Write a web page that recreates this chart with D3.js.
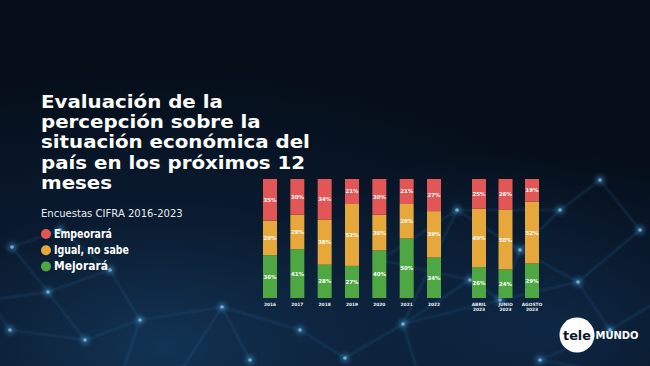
<!DOCTYPE html>
<html>
<head>
<meta charset="utf-8">
<script src="https://cdn.jsdelivr.net/npm/d3@7"></script>
<style>
html,body{margin:0;padding:0;background:#06101c;overflow:hidden;}
svg{display:block;}
</style>
</head>
<body>
<svg id="chart" width="650" height="366"></svg>
<script>
// ---- data ----
const categories = ["2016","2017","2018","2019","2020","2021","2022","ABRIL 2023","JUNIO 2023","AGOSTO 2023"];
const groupA = ["2016","2017","2018","2019","2020","2021","2022"];
const groupB = ["ABRIL 2023","JUNIO 2023","AGOSTO 2023"];
const seriesNames = ["Mejorará","Igual, no sabe","Empeorará"];
const mejorara = [36,41,28,27,40,50,34,26,24,29];
const igual    = [29,29,38,52,30,29,39,49,50,52];
const empeorara= [35,30,34,21,30,21,27,25,26,19];
const legendNames = ["Empeorará","Igual, no sabe","Mejorará"];
const titleLines = ["Evaluación de la","percepción sobre la","situación económica del","país en los próximos 12","meses"];
const subtitle = "Encuestas CIFRA 2016-2023";

const colors = {"Empeorará":"#e25656","Igual, no sabe":"#e6a83b","Mejorará":"#4ea743"};

const svg = d3.select("#chart");
const W = 650, H = 366;

// ---- background ----
const defs = svg.append("defs");
const bg = defs.append("radialGradient").attr("id","bgGlow").attr("cx","0.25").attr("cy","0.95").attr("r","0.8");
bg.append("stop").attr("offset","0").attr("stop-color","#123354");
bg.append("stop").attr("offset","0.45").attr("stop-color","#0a1b30");
bg.append("stop").attr("offset","1").attr("stop-color","#050d18");
const bg2 = defs.append("radialGradient").attr("id","bgGlow2").attr("cx","0.85").attr("cy","0.9").attr("r","0.5");
bg2.append("stop").attr("offset","0").attr("stop-color","#12345a").attr("stop-opacity",0.6);
bg2.append("stop").attr("offset","1").attr("stop-color","#12345a").attr("stop-opacity",0);
const blur = defs.append("filter").attr("id","blur").attr("x","-50%").attr("y","-50%").attr("width","200%").attr("height","200%");
blur.append("feGaussianBlur").attr("stdDeviation",0.8);
const glow = defs.append("filter").attr("id","glow").attr("x","-200%").attr("y","-200%").attr("width","500%").attr("height","500%");
glow.append("feGaussianBlur").attr("stdDeviation",2.5);

svg.append("rect").attr("width",W).attr("height",H).attr("fill","url(#bgGlow)");
svg.append("rect").attr("width",W).attr("height",H).attr("fill","url(#bgGlow2)");

// decorative network
const nodes = [[12,247],[48,292],[85,340],[-10,300],[140,320],[180,372],[222,307],[60,230],[110,270],[10,330],[250,360],[120,380],
  [457,210],[403,324],[345,358],[578,282],[640,230],[610,330],[520,250],[500,300],[560,210],[470,280],[380,260],[660,300],[600,180],[540,360],[660,380],[420,380],[300,330]];
const links = [[0,1],[1,2],[0,7],[7,8],[8,1],[3,1],[2,4],[4,6],[6,5],[2,9],[9,3],[4,11],[6,10],[8,4],[6,28],
  [12,13],[13,14],[12,22],[22,21],[21,13],[15,16],[15,17],[15,18],[18,19],[19,13],[18,20],[20,12],[16,24],[17,23],[17,25],[13,27],[19,21],[14,28],[15,19],[20,24],[25,26],[12,18]];
const net = svg.append("g").attr("filter","url(#blur)");
net.selectAll("line").data(links).join("line")
  .attr("x1",d=>nodes[d[0]][0]).attr("y1",d=>nodes[d[0]][1])
  .attr("x2",d=>nodes[d[1]][0]).attr("y2",d=>nodes[d[1]][1])
  .attr("stroke","#2f6a9c").attr("stroke-opacity",0.45).attr("stroke-width",1.2);
const ng = svg.append("g");
ng.selectAll("circle.g").data(nodes).join("circle").attr("class","g")
  .attr("cx",d=>d[0]).attr("cy",d=>d[1]).attr("r",4).attr("fill","#4aa0d8").attr("opacity",0.55).attr("filter","url(#glow)");
ng.selectAll("circle.c").data(nodes).join("circle").attr("class","c")
  .attr("cx",d=>d[0]).attr("cy",d=>d[1]).attr("r",1.8).attr("fill","#8fcff0").attr("opacity",0.7);

// ---- title ----
const fontTitle = "'DejaVu Sans', Verdana, sans-serif";
const tg = svg.append("g");
const tTexts = tg.selectAll("text").data(titleLines).join("text")
  .attr("x",0).attr("y",(d,i)=>i*20.2)
  .attr("fill","#ffffff").attr("font-family",fontTitle).attr("font-weight",700)
  .attr("font-size",18.5).text(d=>d);
const wref = tTexts.nodes()[2].getComputedTextLength();
tg.attr("transform",`translate(41,108) scale(${269/wref},1)`);

const sub = svg.append("text").attr("x",0).attr("y",0).attr("fill","#e8edf2")
  .attr("font-family",fontTitle).attr("font-weight",400).attr("font-size",10.5)
  .text(subtitle);
const sw = sub.node().getComputedTextLength();
sub.attr("transform",`translate(41,217) scale(${142/sw},1)`);

// legend
const legendWidths = [58,75,54];
const lg = svg.append("g");
legendNames.forEach((n,i)=>{
  const yy = 234 + i*16.2;
  lg.append("circle").attr("cx",46).attr("cy",yy).attr("r",5).attr("fill",colors[n]);
  const t = lg.append("text").attr("x",0).attr("y",0).attr("fill","#fff")
    .attr("font-family",fontTitle).attr("font-weight",700).attr("font-size",11.5).text(n);
  const w = t.node().getComputedTextLength();
  t.attr("transform",`translate(54,${yy+4}) scale(${legendWidths[i]/w},1)`);
});

// ---- bars ----
const xA = d3.scalePoint().domain(groupA).range([270,434]);
const xB = d3.scalePoint().domain(groupB).range([479,532]);
const xc = c => groupA.includes(c) ? xA(c) : xB(c);
const y = d3.scaleLinear().domain([0,100]).range([298,179]);
const bw = 14;

const table = categories.map((c,i)=>({cat:c,"Mejorará":mejorara[i],"Igual, no sabe":igual[i],"Empeorará":empeorara[i]}));
const stack = d3.stack().keys(seriesNames)(table);

const bars = svg.append("g");
stack.forEach(layer=>{
  const key = layer.key;
  const g = bars.append("g");
  g.selectAll("rect").data(layer).join("rect")
    .attr("x",d=>xc(d.data.cat)-bw/2).attr("width",bw)
    .attr("y",d=>y(d[1])).attr("height",d=>y(d[0])-y(d[1]))
    .attr("fill",colors[key]);
  g.selectAll("text").data(layer).join("text")
    .attr("x",d=>xc(d.data.cat)).attr("y",d=>(y(d[0])+y(d[1]))/2+2)
    .attr("text-anchor","middle").attr("fill","#fff")
    .attr("font-family",fontTitle).attr("font-weight",700).attr("font-size",5.4)
    .text(d=>d.data[key]+"%");
});

// category labels
const xl = svg.append("g");
categories.forEach(c=>{
  const parts = c.split(" ");
  const t = xl.append("text").attr("x",xc(c)).attr("y",305.5).attr("text-anchor","middle")
    .attr("fill","#e8edf2").attr("font-family",fontTitle).attr("font-weight",700).attr("font-size",4.4);
  parts.forEach((p,i)=>t.append("tspan").attr("x",xc(c)).attr("dy",i===0?0:5.2).text(p));
});

// ---- logo ----
const logo = svg.append("g");
logo.append("circle").attr("cx",577).attr("cy",335).attr("r",17.5).attr("fill","#ffffff");
logo.append("text").attr("x",563).attr("y",339.5).attr("fill","#0b1626")
  .attr("font-family",fontTitle).attr("font-weight",700).attr("font-size",12)
  .attr("textLength",28).attr("lengthAdjust","spacingAndGlyphs").text("tele");
logo.append("text").attr("x",595.5).attr("y",339).attr("fill","#ffffff")
  .attr("font-family",fontTitle).attr("font-weight",700).attr("font-size",10)
  .attr("textLength",43).attr("lengthAdjust","spacingAndGlyphs").text("MUNDO");
</script>
</body>
</html>
